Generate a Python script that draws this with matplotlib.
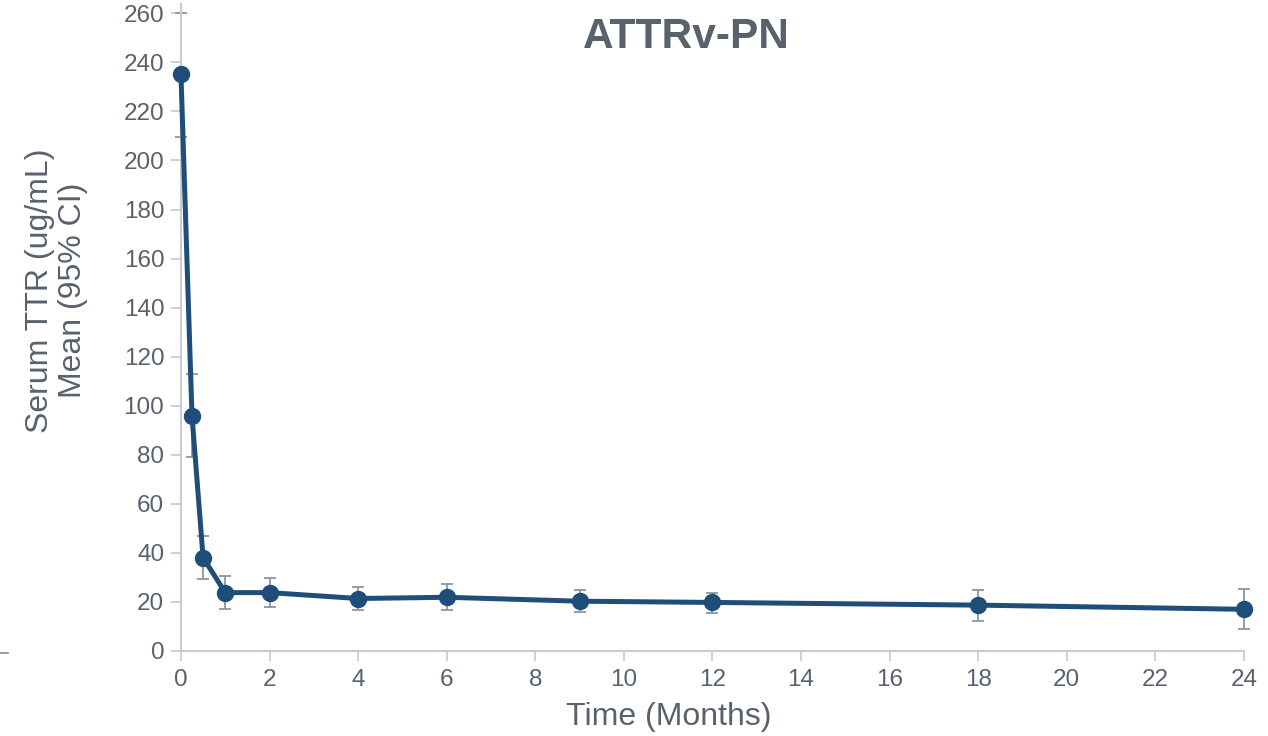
import matplotlib.pyplot as plt
from matplotlib.lines import Line2D

plt.rcParams['font.family'] = ['Liberation Sans', 'DejaVu Sans']

# Serum TTR over time, mean with 95% CI
months = [0, 0.25, 0.5, 1, 2, 4, 6, 9, 12, 18, 24]
ttr_mean = [235.3, 95.8, 38.1, 23.8, 23.8, 21.4, 21.9, 20.3, 19.8, 18.7, 17.0]
ci_low = [209.7, 79.0, 29.2, 17.2, 17.9, 16.9, 16.6, 15.9, 15.4, 12.4, 8.9]
ci_high = [260.3, 112.8, 47.0, 30.7, 29.7, 26.2, 27.3, 24.7, 23.8, 24.8, 25.2]

x_ticks = list(range(0, 25, 2))
y_ticks = list(range(0, 261, 20))

line_col = '#1F4E79'
err_col = '#8E969E'
axis_col = '#C9CDD2'
text_col = '#59626C'

fig = plt.figure(figsize=(12.68, 7.36), dpi=100)
ax = fig.add_axes([0.1427, 0.1155, 0.8383, 0.8797])

yerr = [[m - lo for m, lo in zip(ttr_mean, ci_low)],
        [hi - m for m, hi in zip(ttr_mean, ci_high)]]
ax.errorbar(months, ttr_mean, yerr=yerr, fmt='none', ecolor=err_col,
            elinewidth=1.3, capsize=4.5, capthick=1.3, zorder=2, clip_on=False)
ax.plot(months, ttr_mean, color=line_col, lw=3.6, marker='o', ms=11.5,
        zorder=3, clip_on=False)

ax.set_xlim(0, 24)
ax.set_ylim(0, 264)
ax.set_xticks(x_ticks)
ax.set_yticks(y_ticks)

for s in ['top', 'right']:
    ax.spines[s].set_visible(False)
for s in ['left', 'bottom']:
    ax.spines[s].set_color(axis_col)
    ax.spines[s].set_linewidth(1.5)

ax.tick_params(colors=axis_col, labelcolor=text_col, labelsize=17.5,
               length=7, width=1.3)
ax.tick_params(axis='x', pad=6)
ax.tick_params(axis='y', pad=5)

ax.set_xlabel('Time (Months)', fontsize=23, color=text_col, va='center')
ax.xaxis.set_label_coords(0.459, -0.102)
ax.set_ylabel('Serum TTR (ug/mL)\nMean (95% CI)', fontsize=23,
              color=text_col, va='center', ha='center', linespacing=1.1)
ax.yaxis.set_label_coords(-0.117, 0.557)

fig.text(0.541, 0.95, 'ATTRv-PN', ha='center', va='center', fontsize=30.5,
         fontweight='bold', color=text_col)

# stray tick at the left edge
fig.add_artist(Line2D([0.0, 0.0065], [0.1127, 0.1127], color=err_col, lw=1.3))

fig.savefig('out.png', dpi=100)
